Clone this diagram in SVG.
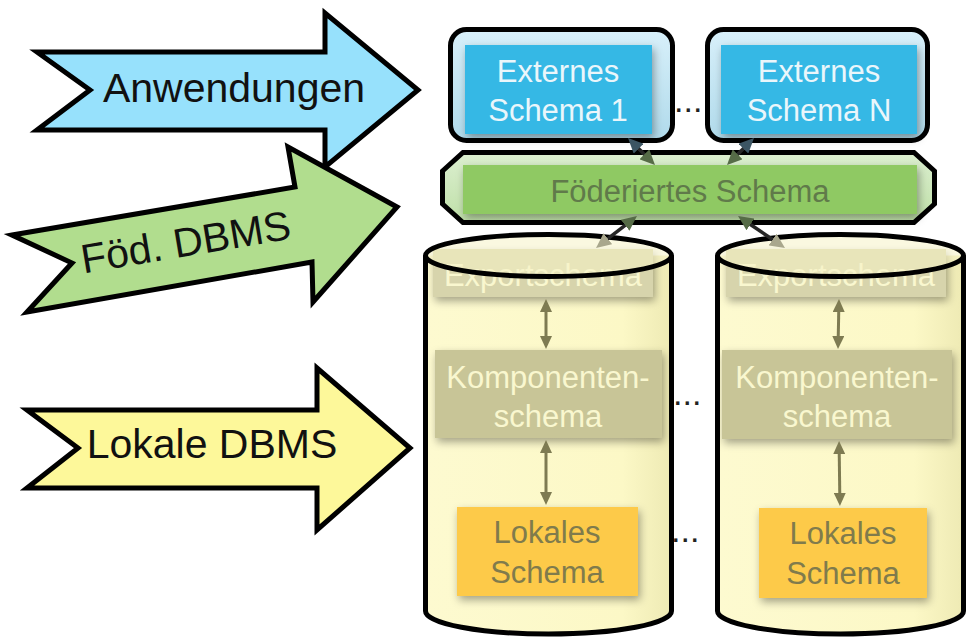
<svg xmlns="http://www.w3.org/2000/svg" width="966" height="639" viewBox="0 0 966 639">
  <defs>
    <style>
      .lbl{font-family:"Liberation Sans",Arial,sans-serif;text-anchor:middle}
      .big{font-size:41px;fill:#111}
      .sch{font-size:31px}
      .outline{stroke:#000;stroke-width:5;stroke-linejoin:miter}
      .cyl{stroke:#000;stroke-width:5}
      .dots{font-family:"Liberation Sans",Arial,sans-serif;font-size:34px;fill:#222}
      .conn{stroke:#262626;stroke-width:3.5;fill:none}
      .inner{stroke:#7e7b52;stroke-width:3;fill:none}
      .ext{fill:#36b8e5}
      .extTxt{fill:#eaf6fb}
      .comp{fill:#c8c597}
      .exp{fill:#d7d4ac}
      .paleTxt{fill:#f9f7cf}
      .loc{fill:#fdca48}
      .locTxt{fill:#807b4c}
    </style>
    <filter id="shadow" x="-20%" y="-20%" width="150%" height="170%">
      <feDropShadow dx="2" dy="4" stdDeviation="4" flood-color="#000" flood-opacity="0.35"/>
    </filter>
    <linearGradient id="gExt" x1="0" y1="0" x2="0" y2="1">
      <stop offset="0" stop-color="#d8f0fa"/>
      <stop offset="1" stop-color="#b0daeb"/>
    </linearGradient>
    <linearGradient id="gFed" x1="0" y1="0" x2="0" y2="1">
      <stop offset="0" stop-color="#dcefd0"/>
      <stop offset="1" stop-color="#bfe0a8"/>
    </linearGradient>
    <linearGradient id="gBody" x1="0" y1="0" x2="1" y2="0">
      <stop offset="0" stop-color="#fdfad0"/>
      <stop offset="0.8" stop-color="#fcf8c6"/>
      <stop offset="1" stop-color="#eeeab4"/>
    </linearGradient>
    <marker id="hBlue" viewBox="0 0 15 14" refX="4" refY="7" markerWidth="15" markerHeight="14" markerUnits="userSpaceOnUse" orient="auto-start-reverse">
      <path d="M0,0 L15,7 L0,14 Z" fill="#3c5563"/>
    </marker>
    <marker id="hGreen" viewBox="0 0 15 14" refX="4" refY="7" markerWidth="15" markerHeight="14" markerUnits="userSpaceOnUse" orient="auto-start-reverse">
      <path d="M0,0 L15,7 L0,14 Z" fill="#566c47"/>
    </marker>
    <marker id="hFade" viewBox="0 0 15 14" refX="4" refY="7" markerWidth="15" markerHeight="14" markerUnits="userSpaceOnUse" orient="auto-start-reverse">
      <path d="M0,0 L15,7 L0,14 Z" fill="#a9a78d"/>
    </marker>
    <marker id="hOlive" viewBox="0 0 13 12" refX="3" refY="6" markerWidth="13" markerHeight="12" markerUnits="userSpaceOnUse" orient="auto-start-reverse">
      <path d="M0,0 L13,6 L0,12 Z" fill="#7e7b52"/>
    </marker>
  </defs>

  <rect width="966" height="639" fill="#fff"/>

  <!-- level arrows on the left -->
  <g id="arrow-anwendungen">
    <polygon class="outline" fill="#97e1fc" points="37,52 325,52 325,13 418,90 325,167 325,130 37,130 90,90"/>
    <text class="lbl big" x="234" y="102">Anwendungen</text>
  </g>
  <g id="arrow-foed-dbms">
    <polygon class="outline" fill="#b1dd8e" points="12,235 295,187 288,147 397,207 313,302 312,262 27,312 72,263"/>
    <text class="lbl big" x="188" y="256" transform="rotate(-9.5 188 256)">Föd. DBMS</text>
  </g>
  <g id="arrow-lokale-dbms">
    <polygon class="outline" fill="#fdf89a" points="27,410 317,410 317,368 410,448 317,530 317,488 27,488 78,448"/>
    <text class="lbl big" x="212" y="458">Lokale DBMS</text>
  </g>

  <!-- ellipsis marks between repeated columns -->
  <g id="ellipses">
    <text class="dots" x="674" y="112">...</text>
    <text class="dots" x="673" y="405">...</text>
    <text class="dots" x="671" y="542">...</text>
  </g>

  <!-- external schemas -->
  <g id="externes-schema-1">
    <rect class="outline" x="450.5" y="29.5" width="222" height="111" rx="16" fill="url(#gExt)"/>
    <rect class="ext" x="465" y="45" width="187" height="89" filter="url(#shadow)"/>
    <text class="lbl sch extTxt" x="558" y="82">Externes</text>
    <text class="lbl sch extTxt" x="558" y="121">Schema 1</text>
  </g>
  <g id="externes-schema-n">
    <rect class="outline" x="707.5" y="29.5" width="220" height="111" rx="16" fill="url(#gExt)"/>
    <rect class="ext" x="721" y="45" width="196" height="89" filter="url(#shadow)"/>
    <text class="lbl sch extTxt" x="819" y="82">Externes</text>
    <text class="lbl sch extTxt" x="819" y="121">Schema N</text>
  </g>

  <!-- federated schema -->
  <g id="foederiertes-schema">
    <polygon class="outline" fill="url(#gFed)" points="463,152.5 914,152.5 934.5,171 934.5,204 914,222.5 463,222.5 442.5,204 442.5,171"/>
    <rect x="463" y="165" width="454" height="49" fill="#8fc964" filter="url(#shadow)"/>
    <text class="lbl sch" x="690" y="202" fill="#607a4a">Föderiertes Schema</text>
  </g>

  <!-- component database 1: open body (no stroke across the top), contents, translucent lid -->
  <g id="datenbank-1">
    <path class="cyl" fill="url(#gBody)" d="M425.5,255.5 V611 A123,23 0 0 0 671.5,611 V255.5"/>
    <g id="exportschema-1">
      <rect class="exp" x="433" y="249" width="220" height="48" filter="url(#shadow)"/>
      <text class="lbl sch paleTxt" x="543" y="286">Exportschema</text>
    </g>
    <g id="komponentenschema-1">
      <rect class="comp" x="435" y="350" width="227" height="88" filter="url(#shadow)"/>
      <text class="lbl sch paleTxt" x="548" y="388">Komponenten-</text>
      <text class="lbl sch paleTxt" x="548" y="427">schema</text>
    </g>
    <g id="lokales-schema-1">
      <rect class="loc" x="457" y="507" width="181" height="89" filter="url(#shadow)"/>
      <text class="lbl sch locTxt" x="547" y="543">Lokales</text>
      <text class="lbl sch locTxt" x="547" y="583">Schema</text>
    </g>
    <ellipse class="cyl" cx="548.5" cy="255.5" rx="123" ry="21" fill="#f5f2c6" fill-opacity="0.55"/>
  </g>

  <!-- component database 2 -->
  <g id="datenbank-2">
    <path class="cyl" fill="url(#gBody)" d="M717.5,255.5 V611 A123,23 0 0 0 963.5,611 V255.5"/>
    <g id="exportschema-2">
      <rect class="exp" x="726" y="249" width="220" height="48" filter="url(#shadow)"/>
      <text class="lbl sch paleTxt" x="836" y="286">Exportschema</text>
    </g>
    <g id="komponentenschema-2">
      <rect class="comp" x="722" y="350" width="230" height="89" filter="url(#shadow)"/>
      <text class="lbl sch paleTxt" x="837" y="388">Komponenten-</text>
      <text class="lbl sch paleTxt" x="837" y="427">schema</text>
    </g>
    <g id="lokales-schema-2">
      <rect class="loc" x="759" y="508" width="168" height="90" filter="url(#shadow)"/>
      <text class="lbl sch locTxt" x="843" y="544">Lokales</text>
      <text class="lbl sch locTxt" x="843" y="584">Schema</text>
    </g>
    <ellipse class="cyl" cx="840.5" cy="255.5" rx="123" ry="21" fill="#f5f2c6" fill-opacity="0.55"/>
  </g>

  <!-- connectors -->
  <g id="connectors">
    <line class="conn" x1="635.8" y1="145.8" x2="647.2" y2="157.2" marker-start="url(#hBlue)" marker-end="url(#hGreen)"/>
    <line class="conn" x1="746.2" y1="145.8" x2="734.8" y2="157.2" marker-start="url(#hBlue)" marker-end="url(#hGreen)"/>
    <line class="conn" x1="628.3" y1="222.8" x2="604.7" y2="241.2" marker-start="url(#hGreen)" marker-end="url(#hFade)"/>
    <line class="conn" x1="747.1" y1="222.2" x2="775.9" y2="241.8" marker-start="url(#hGreen)" marker-end="url(#hFade)"/>
    <line class="inner" x1="546" y1="309" x2="546" y2="339" marker-start="url(#hOlive)" marker-end="url(#hOlive)"/>
    <line class="inner" x1="838.8" y1="309" x2="838.2" y2="339" marker-start="url(#hOlive)" marker-end="url(#hOlive)"/>
    <line class="inner" x1="546" y1="450" x2="546" y2="495" marker-start="url(#hOlive)" marker-end="url(#hOlive)"/>
    <line class="inner" x1="839.2" y1="451" x2="839.8" y2="496" marker-start="url(#hOlive)" marker-end="url(#hOlive)"/>
  </g>
</svg>
